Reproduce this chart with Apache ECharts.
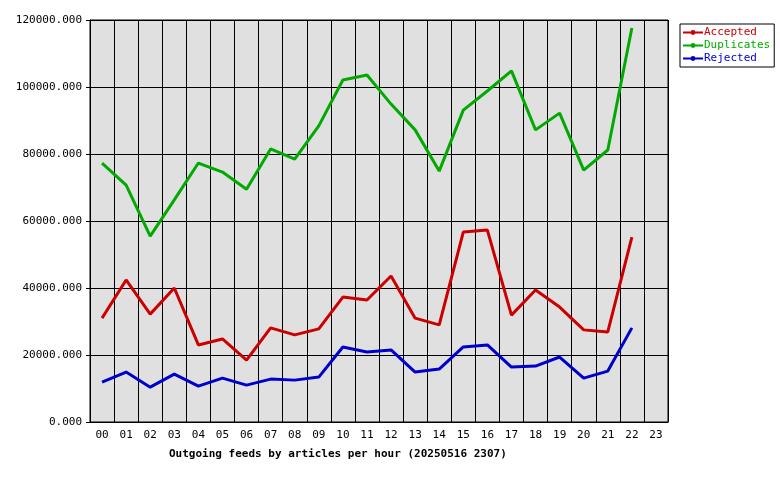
<!DOCTYPE html><html><head><meta charset="utf-8">
<script src="https://cdn.jsdelivr.net/npm/echarts@6/dist/echarts.min.js"></script>
<style>html,body{margin:0;background:#fff}#c{width:780px;height:480px}</style></head><body><div id="c"></div>
<script>
const hours=['00','01','02','03','04','05','06','07','08','09','10','11','12','13','14','15','16','17','18','19','20','21','22','23'];
const accepted=[31000,42400,32200,40000,23000,24800,18500,28100,26000,27800,37300,36400,43600,31000,29000,56700,57300,31900,39400,34300,27500,26900,55200,null];
const duplicates=[77300,70700,55500,66300,77300,74600,69500,81500,78500,88400,102100,103600,94900,87200,74900,93100,98800,104800,87200,92200,75200,81200,117600,null];
const rejected=[11900,14900,10400,14300,10700,13100,11000,12800,12500,13400,22400,20900,21500,14900,15800,22400,23000,16400,16700,19400,13100,15200,28100,null];
const font='DejaVu Sans Mono';
const mk=(n,d,c)=>({name:n,type:'line',data:d,symbol:'none',lineStyle:{width:3,color:c},itemStyle:{color:c},animation:false});
const ch=echarts.init(document.getElementById('c'));
ch.setOption({
 textStyle:{fontFamily:font},
 grid:{left:90,top:20,width:578,height:402,show:true,backgroundColor:'#e0e0e0',borderColor:'#000',borderWidth:1},
 title:{text:'Outgoing feeds by articles per hour (20250516 2307)',left:164,top:444,textStyle:{fontFamily:font,fontSize:11,fontWeight:'bold',color:'#000'}},
 legend:{orient:'vertical',left:680,top:24,itemGap:2,itemWidth:20,itemHeight:6,padding:[3,4,3,2],borderColor:'#000',borderWidth:1,backgroundColor:'#fff',
  data:[{name:'Accepted',textStyle:{color:'#cc0000'}},{name:'Duplicates',textStyle:{color:'#00aa00'}},{name:'Rejected',textStyle:{color:'#0000cc'}}],
  textStyle:{fontFamily:font,fontSize:11,padding:[0,0,0,-4]}},
 xAxis:{type:'category',data:hours,boundaryGap:true,axisLine:{lineStyle:{color:'#000'}},axisTick:{show:false},
  axisLabel:{color:'#000',fontFamily:font,fontSize:11,interval:0},splitLine:{show:true,interval:0,lineStyle:{color:'#000'}}},
 yAxis:{type:'value',min:0,max:120000,interval:20000,axisLine:{show:true,lineStyle:{color:'#000'}},axisTick:{show:true,length:4,lineStyle:{color:'#000'}},
  axisLabel:{color:'#000',fontFamily:font,fontSize:11,formatter:v=>v.toFixed(3)},splitLine:{lineStyle:{color:'#000'}}},
 series:[mk('Accepted',accepted,'#cc0000'),mk('Duplicates',duplicates,'#00aa00'),mk('Rejected',rejected,'#0000cc')]
});
</script></body></html>
